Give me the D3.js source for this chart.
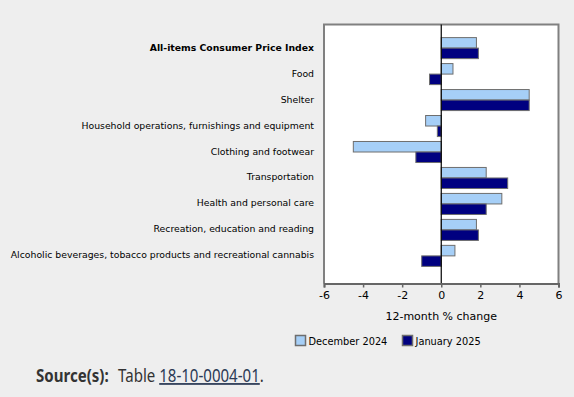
<!DOCTYPE html>
<html><head><meta charset="utf-8">
<script src="https://cdn.jsdelivr.net/npm/d3@7"></script>
<style>
html,body{margin:0;padding:0;background:#eeeeee;}
svg{display:block;}
</style></head>
<body>
<svg id="chart" width="574" height="397"></svg>
<script>
const categories = [
  "All-items Consumer Price Index",
  "Food",
  "Shelter",
  "Household operations, furnishings and equipment",
  "Clothing and footwear",
  "Transportation",
  "Health and personal care",
  "Recreation, education and reading",
  "Alcoholic beverages, tobacco products and recreational cannabis"
];
const seriesNames = ["December 2024", "January 2025"];
const dec2024 = [1.8, 0.6, 4.5, -0.8, -4.5, 2.3, 3.1, 1.8, 0.7];
const jan2025 = [1.9, -0.6, 4.5, -0.2, -1.3, 3.4, 2.3, 1.9, -1.0];
const xTicks = [-6, -4, -2, 0, 2, 4, 6];
const colors = ["#a6cff7", "#000080"];

const svg = d3.select("#chart");
const font = "'DejaVu Sans', Verdana, sans-serif";
const frame = {left: 324, right: 558.5, top: 24.5, bottom: 283.5};

const x = d3.scaleLinear().domain([-6, 6]).range([frame.left, frame.right]);
const y = d3.scaleBand().domain(categories).range([35, 269]).paddingInner(0.19).paddingOuter(0.1);
const ySub = d3.scaleBand().domain(seriesNames).range([0, y.bandwidth()]);

svg.append("rect").attr("x", frame.left).attr("y", frame.top)
  .attr("width", frame.right - frame.left).attr("height", frame.bottom - frame.top)
  .attr("fill", "#ffffff");

const data = [dec2024, jan2025];
data.forEach((vals, si) => {
  svg.append("g").selectAll("rect").data(vals).join("rect")
    .attr("x", d => x(Math.min(0, d)))
    .attr("width", d => Math.abs(x(d) - x(0)))
    .attr("y", (d, i) => y(categories[i]) + ySub(seriesNames[si]))
    .attr("height", ySub.bandwidth())
    .attr("fill", colors[si])
    .attr("stroke", "#6e6e6e")
    .attr("stroke-width", 1);
});

svg.append("path")
  .attr("d", `M${frame.left},${frame.bottom}V${frame.top}H${frame.right}V${frame.bottom}`)
  .attr("fill", "none").attr("stroke", "#808080").attr("stroke-width", 2);

svg.append("line").attr("x1", x(0)).attr("x2", x(0)).attr("y1", frame.top).attr("y2", frame.bottom)
  .attr("stroke", "#000").attr("stroke-width", 1.2);

const xAxis = svg.append("g").attr("transform", `translate(0,${frame.bottom})`)
  .call(d3.axisBottom(x).tickValues(xTicks).tickSize(4).tickPadding(4).tickFormat(d => d < 0 ? "-" + Math.abs(d) : d));
xAxis.select(".domain").attr("stroke", "#666").attr("stroke-width", 2);
xAxis.selectAll(".tick line").attr("stroke", "#666").attr("stroke-width", 1.5);
xAxis.selectAll("text").attr("font-family", font).attr("font-size", 11).attr("fill", "#000");

svg.append("text").attr("x", x(0)).attr("y", 320).attr("text-anchor", "middle")
  .attr("font-family", font).attr("font-size", 11).attr("fill", "#000").text("12-month % change");

svg.append("g").selectAll("text").data(categories).join("text")
  .attr("x", 314)
  .attr("y", d => y(d) + y.bandwidth() / 2)
  .attr("text-anchor", "end")
  .attr("dominant-baseline", "middle")
  .attr("font-family", font)
  .attr("font-size", 9.3)
  .attr("font-weight", (d, i) => i === 0 ? "bold" : "normal")
  .attr("fill", "#000")
  .text(d => d);

const legendX = [295, 402];
seriesNames.forEach((s, i) => {
  const g = svg.append("g").attr("transform", `translate(${legendX[i]},335)`);
  g.append("rect").attr("x", 0.5).attr("y", 0.5).attr("width", 10).attr("height", 10)
    .attr("fill", colors[i]).attr("stroke", "#6e6e6e").attr("stroke-width", 1.5);
  g.append("text").attr("x", 13.5).attr("y", 10).attr("font-family", font).attr("font-size", 9.8)
    .attr("fill", "#000").text(s);
});

const src = svg.append("text").attr("transform", "translate(36,382) scale(0.86,1)")
  .attr("font-family", "'Noto Sans', 'Open Sans', sans-serif").attr("font-size", 17.5).attr("fill", "#333");
src.append("tspan").attr("font-weight", "bold").text("Source(s):");
src.append("tspan").attr("dx", 11).text("Table ");
src.append("tspan").attr("text-decoration", "underline").attr("fill", "#2b3a55").text("18-10-0004-01");
src.append("tspan").text(".");
</script>
</body></html>
